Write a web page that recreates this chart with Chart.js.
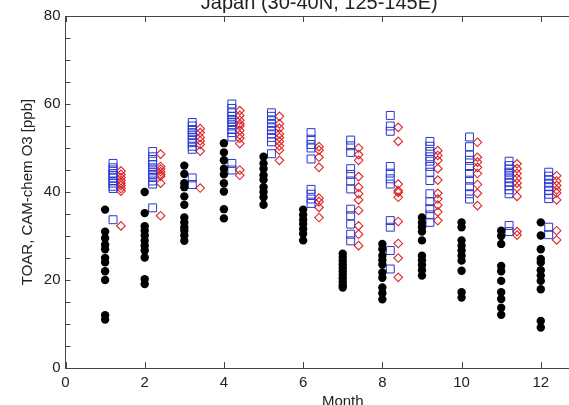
<!DOCTYPE html>
<html lang="en">
<head>
  <meta charset="UTF-8" />
  <title>Japan O3</title>
  <script src="https://cdn.jsdelivr.net/npm/chart.js"></script>
  <style>
    html, body {
      margin: 0;
      padding: 0;
      background: #fff;
      overflow: hidden;
      width: 569px;
      height: 405px;
    }
    .chart-wrapper {
      position: absolute;
      left: 0;
      top: -5px;
      width: 644px;
      height: 426px;
    }
  </style>
</head>
<body>
  <div class="chart-wrapper">
    <canvas id="o3Chart"></canvas>
  </div>

  <script>
    const months = [1, 2, 3, 4, 5, 6, 7, 8, 9, 10, 11, 12];
    const xTicks = [0, 2, 4, 6, 8, 10, 12, 14];

    // TOAR observations (black dots), one list per month
    const toarObs = [
      [36, 31, 29.5, 28, 27, 25, 24, 22, 20, 12, 11],
      [40, 35.2, 32.2, 31.2, 30.1, 28.9, 27.8, 26.7, 25.1, 20.2, 19.1],
      [46, 44.1, 42, 41.1, 39, 37.1, 34.2, 33.1, 32, 31.2, 30.1, 28.9],
      [51.1, 49, 47.2, 45.3, 44, 42, 40.1, 36.1, 34],
      [48, 46.5, 45.3, 43.8, 42.8, 41.1, 40, 38.8, 37.1],
      [36, 34.8, 33.7, 32.7, 31.6, 30.5, 29],
      [26, 25.2, 24.4, 23.6, 22.8, 22, 21.2, 20.4, 19.6, 18.8, 18.3],
      [28.2, 27, 25.5, 24.5, 23.5, 21.7, 20.5, 18.3, 17, 15.6],
      [34.2, 33, 32, 31, 29, 25.5, 24.5, 23.4, 22.2, 21],
      [33.1, 32, 29, 27.8, 26.7, 25.5, 24.4, 22.1, 17.2, 16],
      [31.2, 30, 28.2, 23.2, 22, 19.8, 17.2, 15.7, 13.7, 12.1],
      [33.1, 30.1, 27, 24.8, 24, 22.2, 21, 19.8, 17.9, 10.7, 9.2]
    ];

    // CAM-chem run A (blue squares)
    const camA = [
      [46.5, 45.5, 45, 44.2, 43.8, 43.2, 42.5, 42, 41.3, 40.8, 33.7],
      [49.2, 48, 47, 46.2, 45.5, 44.8, 44, 43.3, 42.5, 41.8, 36.4],
      [55.8, 55, 54.2, 53.5, 52.8, 52, 51.2, 50.4, 49.7, 43.2, 41.7],
      [60, 59, 58, 57.2, 56.5, 55.8, 55, 54.2, 53.5, 52.5, 46.5, 45],
      [58, 57.2, 56.4, 55.6, 54.8, 54, 53.2, 52.4, 51.4, 48.7],
      [53.5, 52, 50.8, 50, 47.5, 40.6, 39.5, 38.4, 37.4],
      [51.8, 50.5, 49, 45.3, 44, 42.5, 40.7, 36.1, 34.6, 32.7, 30.4, 28.9],
      [57.4, 55, 53.8, 45.8, 44.3, 43, 41.8, 33.5, 32, 26.7, 22.5],
      [51.5, 50.4, 49.2, 48, 47, 45.8, 44.5, 42.6, 39.6, 37.8, 36.2, 34.8, 33.1],
      [52.5, 50.3, 48.4, 47.2, 45.8, 44.2, 42.7, 41.2, 39.6, 38.4],
      [47, 46, 45.2, 44.5, 43.8, 43, 42.2, 41.4, 40.5, 39.6, 32.4, 31],
      [44.5, 43.6, 42.8, 42, 41.2, 40.4, 39.5, 38.5, 32, 30.3]
    ];

    // CAM-chem run B (red diamonds)
    const camB = [
      [44.8, 44, 43.3, 42.6, 42, 41.5, 40.8, 40.2, 32.3],
      [48.6, 45.8, 45.2, 44.6, 44, 43.6, 42, 34.6],
      [54.4, 53.5, 52.4, 51.6, 50.8, 49.3, 40.9],
      [58.5, 57.4, 56.3, 55.5, 55, 54, 53, 52.2, 51, 45, 43.8],
      [57.2, 55.5, 54.5, 53.2, 52.4, 51.5, 50.5, 49.5, 47.2],
      [50.3, 49.5, 47.9, 45.6, 38.6, 37.8, 36.5, 34.2],
      [50, 48.5, 47.2, 43.5, 41.1, 39.6, 38.2, 35.8, 32.3, 30.4, 27.8],
      [54.7, 51.5, 41.8, 40.3, 39.9, 38.8, 33.3, 28.3, 25, 20.6],
      [49.4, 48.3, 47.2, 45.3, 42.7, 39.7, 38.4, 37, 35.5, 33.5],
      [51.3, 47.9, 46.8, 45.6, 44.2, 41.7, 39.7, 36.9],
      [46.4, 45.3, 44.2, 43.1, 42, 41, 39, 31, 30.2],
      [43.7, 42.5, 41.5, 40.5, 39.8, 38.2, 31.2, 29.1]
    ];

    // each series is drawn a little to the right of the month
    function toPoints(lists, shift) {
      const pts = [];
      lists.forEach((vals, i) => {
        vals.forEach(v => pts.push({ x: months[i] + shift, y: v }));
      });
      return pts;
    }

    // IDL style inward tick marks and top axis line
    const idlAxesPlugin = {
      id: 'idlAxes',
      afterDraw: (chart) => {
        const ctx = chart.ctx;
        const area = chart.chartArea;
        const xs = chart.scales.x;
        const ys = chart.scales.y;
        ctx.save();
        ctx.strokeStyle = '#444';
        ctx.lineWidth = 1;
        ctx.beginPath();
        ctx.moveTo(area.left, area.top + 0.5);
        ctx.lineTo(area.right, area.top + 0.5);
        xs.ticks.forEach(t => {
          const px = Math.round(xs.getPixelForValue(t.value)) + 0.5;
          ctx.moveTo(px, area.bottom);
          ctx.lineTo(px, area.bottom - 6);
          ctx.moveTo(px, area.top);
          ctx.lineTo(px, area.top + 6);
        });
        ys.ticks.forEach(t => {
          const py = Math.round(ys.getPixelForValue(t.value)) + 0.5;
          ctx.moveTo(area.left, py);
          ctx.lineTo(area.left + 5, py);
        });
        ctx.stroke();
        ctx.restore();
      }
    };

    const font = { family: "'Liberation Sans', Arial, sans-serif", size: 15 };

    new Chart(document.getElementById('o3Chart'), {
      type: 'scatter',
      data: {
        datasets: [
          {
            label: 'TOAR',
            data: toPoints(toarObs, 0),
            pointStyle: 'circle',
            pointRadius: 4.2,
            backgroundColor: '#000',
            borderColor: '#000',
            borderWidth: 0
          },
          {
            label: 'CAM-chem A',
            data: toPoints(camA, 0.2),
            pointStyle: 'rect',
            pointRadius: 5.6,
            backgroundColor: 'rgba(0,0,0,0)',
            borderColor: '#2838d0',
            borderWidth: 1
          },
          {
            label: 'CAM-chem B',
            data: toPoints(camB, 0.4),
            pointStyle: 'rectRot',
            pointRadius: 4.3,
            backgroundColor: 'rgba(0,0,0,0)',
            borderColor: '#e02424',
            borderWidth: 1.1
          }
        ]
      },
      options: {
        responsive: true,
        maintainAspectRatio: false,
        animation: false,
        events: [],
        layout: {
          padding: { left: 18.5, right: 24, top: 0, bottom: 5 }
        },
        plugins: {
          legend: { display: false },
          tooltip: { enabled: false },
          title: {
            display: true,
            text: 'Japan (30-40N, 125-145E)',
            color: '#222',
            font: { family: font.family, size: 20, weight: 'normal' },
            padding: { top: -4, bottom: 1 }
          }
        },
        scales: {
          x: {
            type: 'linear',
            position: 'bottom',
            min: 0,
            max: 14,
            afterBuildTicks: (scale) => {
              scale.ticks = xTicks.map(v => ({ value: v }));
            },
            ticks: {
              color: '#222',
              font: font,
              padding: 6,
              maxRotation: 0,
              autoSkip: false
            },
            grid: { drawOnChartArea: false, drawTicks: false },
            border: { display: true, color: '#444', width: 1 },
            title: {
              display: true,
              text: 'Month',
              color: '#222',
              font: font,
              padding: { top: -5, bottom: 5 }
            }
          },
          y: {
            min: 0,
            max: 80,
            afterFit: (scale) => { scale.width = 47; },
            ticks: {
              stepSize: 5,
              color: '#222',
              font: font,
              padding: 5,
              autoSkip: false,
              callback: (v) => (v % 20 === 0 ? v : '')
            },
            grid: { drawOnChartArea: false, drawTicks: false },
            border: { display: true, color: '#444', width: 1 },
            title: {
              display: true,
              text: 'TOAR, CAM-chem O3 [ppb]',
              color: '#222',
              font: font,
              padding: { top: 0, bottom: 0 }
            }
          }
        }
      },
      plugins: [idlAxesPlugin]
    });
  </script>
</body>
</html>
